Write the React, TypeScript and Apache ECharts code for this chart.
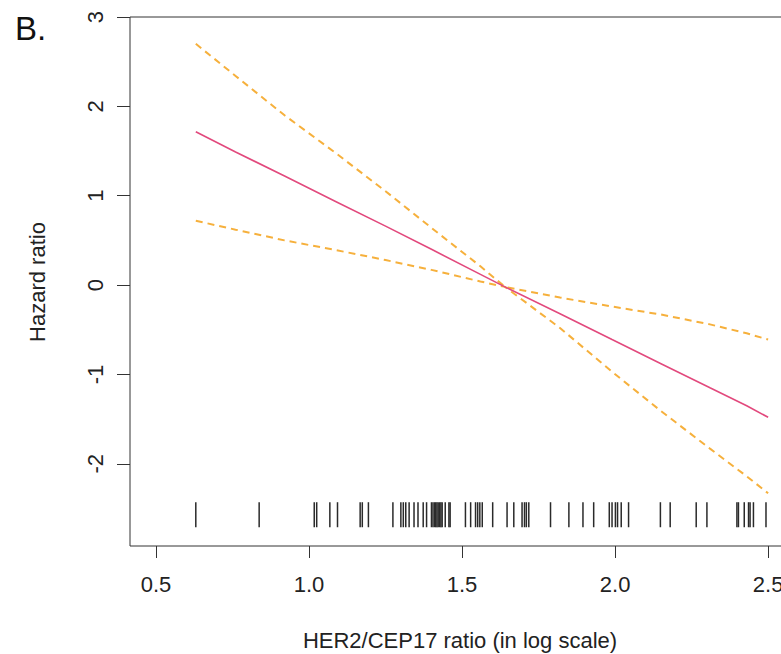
import React, { useEffect, useRef } from "react";
import * as echarts from "echarts";

// HER2/CEP17 ratio (log scale) at which the fitted curves were read
const xFit = [0.63, 0.76, 0.92, 1.09, 1.25, 1.40, 1.56, 1.64, 1.82, 1.99, 2.15, 2.31, 2.43, 2.50];
// Estimated hazard ratio (solid line)
const hrFit = [1.715, 1.49, 1.22, 0.93, 0.66, 0.4, 0.12, -0.02, -0.32, -0.61, -0.88, -1.15, -1.35, -1.48];
// Upper confidence bound (dashed)
const upperCI = [2.7, 2.34, 1.9, 1.47, 1.05, 0.64, 0.21, -0.02, -0.14, -0.24, -0.33, -0.44, -0.54, -0.61];
// Lower confidence bound (dashed)
const lowerCI = [0.72, 0.62, 0.5, 0.39, 0.28, 0.17, 0.04, -0.02, -0.48, -0.97, -1.41, -1.83, -2.14, -2.33];

// Rug of observed values
const rugValues = [
  0.63, 0.837, 1.017, 1.025, 1.068, 1.093, 1.167, 1.174, 1.194, 1.274, 1.3, 1.308, 1.316, 1.327,
  1.343, 1.356, 1.373, 1.384, 1.4, 1.405, 1.41, 1.414, 1.418, 1.422, 1.427, 1.431, 1.435, 1.445,
  1.457, 1.461, 1.511, 1.528, 1.544, 1.551, 1.558, 1.566, 1.6, 1.647, 1.669, 1.696, 1.704, 1.71,
  1.718, 1.789, 1.849, 1.895, 1.93, 1.981, 1.99, 2.001, 2.008, 2.02, 2.044, 2.148, 2.18, 2.265,
  2.3, 2.398, 2.403, 2.422, 2.436, 2.441, 2.452, 2.493,
];

const xTicks = [0.5, 1.0, 1.5, 2.0, 2.5];
const yTicks = [-2, -1, 0, 1, 2, 3];

const xTitle = "HER2/CEP17 ratio (in log scale)";
const yTitle = "Hazard ratio";
const panelLabel = "B.";

const FONT = "'Liberation Sans', Arial, sans-serif";
const RUG_TOP = -2.43;
const RUG_BOTTOM = -2.71;

export default function App() {
  const ref = useRef<HTMLDivElement>(null);

  useEffect(() => {
    if (!ref.current) return;
    const chart = echarts.init(ref.current, undefined, { renderer: "svg" });

    const pairs = (ys: number[]) => xFit.map((x, i) => [x, ys[i]]);

    chart.setOption({
      animation: false,
      backgroundColor: "#ffffff",
      grid: {
        left: 130,
        top: 17,
        width: 662,
        height: 529,
        show: true,
        borderColor: "#333333",
        borderWidth: 1,
        backgroundColor: "transparent",
      },
      xAxis: {
        type: "value",
        min: 0.415,
        max: 2.578,
        axisLine: { show: false, onZero: false },
        splitLine: { show: false },
        axisTick: {
          show: true,
          length: 12,
          customValues: xTicks,
          lineStyle: { color: "#333333", width: 1 },
        },
        axisLabel: {
          show: true,
          customValues: xTicks,
          margin: 27,
          fontFamily: FONT,
          fontSize: 22,
          color: "#222222",
          formatter: (v: number) => v.toFixed(1),
        },
      },
      yAxis: {
        type: "value",
        min: -2.92,
        max: 3,
        axisLine: { show: false, onZero: false },
        splitLine: { show: false },
        axisTick: {
          show: true,
          length: 13,
          customValues: yTicks,
          lineStyle: { color: "#333333", width: 1 },
        },
        axisLabel: {
          show: true,
          customValues: yTicks,
          rotate: 90,
          margin: 24,
          fontFamily: FONT,
          fontSize: 22,
          color: "#222222",
          formatter: (v: number) => String(v),
        },
      },
      series: [
        {
          type: "line",
          data: pairs(upperCI),
          showSymbol: false,
          symbol: "none",
          lineStyle: { color: "#f6b03c", width: 2, type: [7, 5] },
          z: 3,
        },
        {
          type: "line",
          data: pairs(lowerCI),
          showSymbol: false,
          symbol: "none",
          lineStyle: { color: "#f6b03c", width: 2, type: [7, 5] },
          z: 3,
        },
        {
          type: "line",
          data: pairs(hrFit),
          showSymbol: false,
          symbol: "none",
          lineStyle: { color: "#e2497d", width: 1.6 },
          z: 4,
        },
        {
          type: "custom",
          data: rugValues.map((v) => [v]),
          renderItem: (params: any, api: any) => {
            const x = api.value(0);
            const p1 = api.coord([x, RUG_TOP]);
            const p2 = api.coord([x, RUG_BOTTOM]);
            return {
              type: "line",
              shape: { x1: p1[0], y1: p1[1], x2: p2[0], y2: p2[1] },
              style: { stroke: "#2a2a2a", lineWidth: 1.5 },
            };
          },
          z: 2,
        },
      ],
      graphic: [
        {
          type: "text",
          left: 15,
          top: 12,
          style: {
            text: panelLabel,
            fontFamily: FONT,
            fontSize: 33,
            fill: "#111111",
          },
        },
        {
          type: "text",
          x: 37,
          y: 282,
          rotation: Math.PI / 2,
          style: {
            text: yTitle,
            fontFamily: FONT,
            fontSize: 22,
            fill: "#222222",
            align: "center",
            verticalAlign: "middle",
          },
        },
        {
          type: "text",
          x: 460,
          y: 640,
          style: {
            text: xTitle,
            fontFamily: FONT,
            fontSize: 22,
            fill: "#222222",
            align: "center",
            verticalAlign: "middle",
          },
        },
      ],
    });

    return () => chart.dispose();
  }, []);

  return (
    <div
      style={{
        position: "fixed",
        left: 0,
        top: 0,
        width: 781,
        height: 654,
        overflow: "hidden",
        background: "#fff",
      }}
    >
      <div ref={ref} style={{ width: 840, height: 654 }} />
    </div>
  );
}
